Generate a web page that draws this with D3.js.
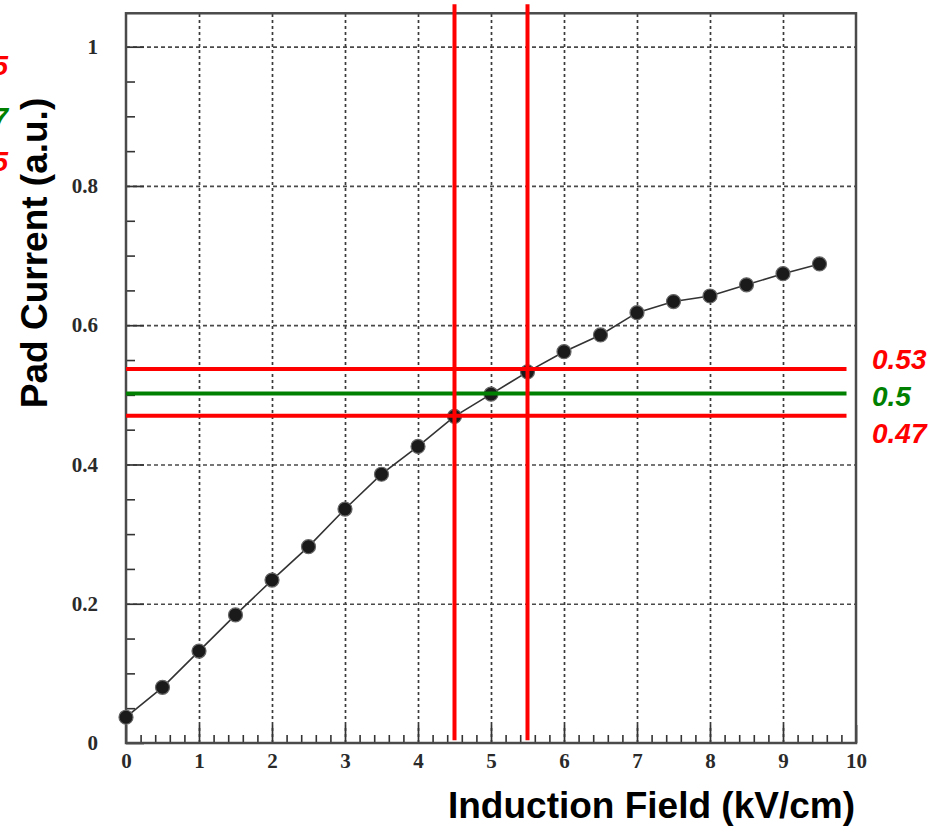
<!DOCTYPE html>
<html>
<head>
<meta charset="utf-8">
<script src="https://cdn.jsdelivr.net/npm/d3@7"></script>
<style>
  body { margin: 0; background: #fff; }
  svg { display: block; }
</style>
</head>
<body>
<svg id="chart"></svg>
<script>
// data
const fieldValues = [0, 0.5, 1, 1.5, 2, 2.5, 3, 3.5, 4, 4.5, 5, 5.5, 6, 6.5, 7, 7.5, 8, 8.5, 9, 9.5];
const padCurrent = [0.037, 0.080, 0.132, 0.184, 0.234, 0.282, 0.336, 0.386, 0.426, 0.469, 0.501, 0.533,
                    0.562, 0.586, 0.618, 0.634, 0.642, 0.658, 0.674, 0.688];

const xTicks = [0, 1, 2, 3, 4, 5, 6, 7, 8, 9, 10];
const xTickLabels = ["0", "1", "2", "3", "4", "5", "6", "7", "8", "9", "10"];
const yTicks = [0, 0.2, 0.4, 0.6, 0.8, 1];
const yTickLabels = ["0", "0.2", "0.4", "0.6", "0.8", "1"];

// hand drawn marker lines
const cutFields = [4.5, 5.5];
const levelValues = [0.537, 0.502, 0.470];
const levelLabels = ["0.53", "0.5", "0.47"];
const levelColors = ["#ff0000", "#008000", "#ff0000"];
// labels cut off by the left edge of the picture
const leftCutLabels = ["0.55", "0.47", "0.45"];
const leftCutValues = [0.960, 0.884, 0.822];

const width = 941, height = 827;
const svg = d3.select("#chart").attr("width", width).attr("height", height);

const x = d3.scaleLinear().domain([0, 10]).range([126, 856]);
const y = d3.scaleLinear().domain([0, 1]).range([743, 46.7]);
const yTop = 1.048;

// grid
const gridX = d3.axisBottom(x).tickValues(xTicks.slice(1, -1)).tickSize(-(y(0) - y(yTop))).tickFormat("");
svg.append("g").attr("transform", `translate(0,${y(0)})`).call(gridX)
  .call(g => g.select(".domain").remove())
  .selectAll("line").attr("stroke", "#3a3a3a").attr("stroke-width", 1.7).attr("stroke-dasharray", "3,3");

const gridY = d3.axisLeft(y).tickValues(yTicks.slice(1)).tickSize(-(x(10) - x(0))).tickFormat("");
svg.append("g").attr("transform", `translate(${x(0)},0)`).call(gridY)
  .call(g => g.select(".domain").remove())
  .selectAll("line").attr("stroke", "#4a4a4a").attr("stroke-width", 1.7).attr("stroke-dasharray", "4,3");

// minor ticks
const xMinor = d3.range(0, 50).map(i => i * 0.2).filter(v => Math.abs(v - Math.round(v)) > 1e-6);
svg.append("g").attr("transform", `translate(0,${y(0)})`)
  .call(d3.axisBottom(x).tickValues(xMinor).tickSize(-8).tickFormat(""))
  .call(g => g.select(".domain").remove())
  .selectAll("line").attr("stroke", "#333").attr("stroke-width", 1.6);

const yMinor = d3.range(0, 21).map(i => i * 0.05).filter(v => Math.abs(v * 5 - Math.round(v * 5)) > 1e-6);
svg.append("g").attr("transform", `translate(${x(0)},0)`)
  .call(d3.axisLeft(y).tickValues(yMinor).tickSize(-9).tickFormat(""))
  .call(g => g.select(".domain").remove())
  .selectAll("line").attr("stroke", "#333").attr("stroke-width", 1.6);

// major ticks and labels
const xAxis = svg.append("g").attr("transform", `translate(0,${y(0)})`)
  .call(d3.axisBottom(x).tickValues(xTicks).tickSizeInner(-18).tickSizeOuter(0).tickPadding(10)
    .tickFormat((d, i) => xTickLabels[i]));
xAxis.select(".domain").remove();
xAxis.selectAll("line").attr("stroke", "#333").attr("stroke-width", 1.7);
xAxis.selectAll("text").attr("font-family", "Liberation Serif").attr("font-weight", "bold")
  .attr("font-size", 21).attr("fill", "#2a2a2a");

const yAxis = svg.append("g").attr("transform", `translate(${x(0)},0)`)
  .call(d3.axisLeft(y).tickValues(yTicks).tickSizeInner(-18).tickSizeOuter(0).tickPadding(28)
    .tickFormat((d, i) => yTickLabels[i]));
yAxis.select(".domain").remove();
yAxis.selectAll("line").attr("stroke", "#333").attr("stroke-width", 1.7);
yAxis.selectAll("text").attr("font-family", "Liberation Serif").attr("font-weight", "bold")
  .attr("font-size", 21).attr("fill", "#2a2a2a");

// frame
svg.append("rect")
  .attr("x", x(0)).attr("y", y(yTop))
  .attr("width", x(10) - x(0)).attr("height", y(0) - y(yTop))
  .attr("fill", "none").attr("stroke", "#4a4a4a").attr("stroke-width", 2.5);

// data curve
const points = fieldValues.map((f, i) => [f, padCurrent[i]]);
svg.append("path")
  .datum(points)
  .attr("fill", "none").attr("stroke", "#333").attr("stroke-width", 1.6)
  .attr("d", d3.line().x(d => x(d[0])).y(d => y(d[1])));

svg.selectAll(".pt").data(points).enter().append("circle")
  .attr("class", "pt")
  .attr("cx", d => x(d[0])).attr("cy", d => y(d[1]))
  .attr("r", 7).attr("fill", "#1a1a1a").attr("stroke", "#666").attr("stroke-width", 1.2);

// horizontal level lines
svg.selectAll(".level").data(levelValues).enter().append("line")
  .attr("class", "level")
  .attr("x1", x(0)).attr("x2", x(9.87))
  .attr("y1", d => y(d)).attr("y2", d => y(d))
  .attr("stroke", (d, i) => levelColors[i]).attr("stroke-width", 4);

// vertical cut lines
svg.selectAll(".cut").data(cutFields).enter().append("line")
  .attr("class", "cut")
  .attr("x1", d => x(d)).attr("x2", d => x(d))
  .attr("y1", y(1.061)).attr("y2", y(0.004))
  .attr("stroke", "#ff0000").attr("stroke-width", 4);

// level labels on the right
const levelTextY = [0.537, 0.484, 0.431];
svg.selectAll(".levelText").data(levelLabels).enter().append("text")
  .attr("class", "levelText")
  .attr("x", 872).attr("y", (d, i) => y(levelTextY[i]))
  .attr("font-family", "Liberation Sans").attr("font-weight", "bold").attr("font-style", "italic")
  .attr("font-size", 28).attr("fill", (d, i) => levelColors[i])
  .text(d => d);

// labels clipped by the left edge, as in the source picture
svg.selectAll(".leftCut").data(leftCutLabels).enter().append("text")
  .attr("class", "leftCut")
  .attr("x", 8).attr("y", (d, i) => y(leftCutValues[i]))
  .attr("text-anchor", "end")
  .attr("font-family", "Liberation Sans").attr("font-weight", "bold").attr("font-style", "italic")
  .attr("font-size", 28).attr("fill", (d, i) => levelColors[i])
  .text(d => d);

// axis titles
svg.append("text")
  .attr("x", 855).attr("y", 818)
  .attr("text-anchor", "end")
  .attr("font-family", "Liberation Sans").attr("font-weight", "bold").attr("font-size", 37)
  .attr("fill", "#000")
  .text("Induction Field (kV/cm)");

svg.append("text")
  .attr("transform", "translate(47,253) rotate(-90)")
  .attr("text-anchor", "middle")
  .attr("font-family", "Liberation Sans").attr("font-weight", "bold").attr("font-size", 37)
  .attr("fill", "#000")
  .text("Pad Current (a.u.)");
</script>
</body>
</html>
